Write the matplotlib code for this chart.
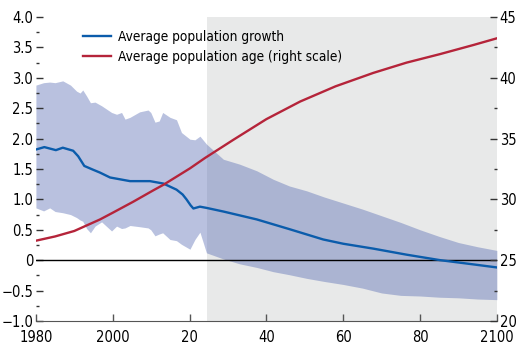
import numpy as np
import matplotlib.pyplot as plt
from matplotlib.ticker import MultipleLocator

# band (range across countries), left scale
band_years = [1980, 1982, 1983.6, 1985, 1987, 1989, 1990.6, 1991.5, 1992.2, 1993.2, 1994.2,
              1995.4, 1997.1, 1999.7, 2001, 2002.3, 2003.2, 2004.5, 2007, 2009.2, 2009.9,
              2011, 2012.1, 2013, 2014.9, 2016.6, 2017.9, 2020.1, 2021.4, 2022.7, 2024.4,
              2028.8, 2033, 2037.5, 2041.8, 2046, 2050.5, 2055, 2060, 2065, 2070, 2075,
              2080, 2085, 2090, 2095, 2100]
band_upper = [2.88, 2.92, 2.93, 2.92, 2.95, 2.88, 2.78, 2.75, 2.80, 2.70, 2.59,
              2.60, 2.54, 2.43, 2.40, 2.43, 2.32, 2.35, 2.44, 2.47, 2.43,
              2.27, 2.29, 2.43, 2.35, 2.31, 2.10, 1.99, 1.98, 2.04, 1.91,
              1.66, 1.58, 1.47, 1.33, 1.22, 1.14, 1.04, 0.94, 0.84, 0.73, 0.62,
              0.50, 0.39, 0.29, 0.22, 0.16]
band_lower = [0.86, 0.81, 0.86, 0.80, 0.78, 0.75, 0.70, 0.66, 0.64, 0.52, 0.45,
              0.56, 0.63, 0.48, 0.56, 0.52, 0.53, 0.57, 0.55, 0.53, 0.50,
              0.40, 0.43, 0.45, 0.34, 0.32, 0.26, 0.18, 0.34, 0.46, 0.12,
              0.02, -0.06, -0.12, -0.19, -0.24, -0.30, -0.35, -0.40, -0.46, -0.54, -0.58,
              -0.59, -0.61, -0.62, -0.64, -0.65]

growth_years = [1980, 1982.2, 1985.2, 1987, 1989.7, 1991, 1992.6, 1994.8, 1996.7, 1999.3,
                2001.9, 2004.5, 2009.7, 2013.2, 2016.6, 2018.2, 2019.2, 2020.3, 2021,
                2022.7, 2024.4, 2028.8, 2037.5, 2046, 2054.8, 2060, 2067.8, 2076.5,
                2085.2, 2093.9, 2100]
growth = [1.82, 1.86, 1.81, 1.85, 1.80, 1.71, 1.55, 1.49, 1.44, 1.36,
          1.33, 1.30, 1.30, 1.26, 1.16, 1.08, 1.00, 0.90, 0.85,
          0.88, 0.86, 0.80, 0.67, 0.51, 0.34, 0.27, 0.19, 0.09,
          0.00, -0.07, -0.12]

age_years = [1980, 1985, 1990, 1996.7, 2000, 2005.3, 2010.6, 2013.2, 2020.1, 2024,
             2031.4, 2040, 2048.8, 2058, 2067.8, 2076.5, 2085.2, 2093.9, 2100]
age = [26.6, 26.95, 27.4, 28.35, 28.9, 29.8, 30.75, 31.2, 32.55, 33.4,
       34.9, 36.6, 38.05, 39.3, 40.4, 41.25, 41.95, 42.7, 43.25]

projection_start = 2024.5

plt.rcParams['font.family'] = ['DejaVu Sans']
plt.rcParams['font.stretch'] = 'condensed'

fig = plt.figure(figsize=(5.28, 3.55), dpi=100)
ax = fig.add_axes([0.068, 0.096, 0.873, 0.856])

ax.axvspan(projection_start, 2100, color='#e8e9e9', zorder=0, lw=0)
ax.fill_between(band_years, band_lower, band_upper, color='#5066b1', alpha=0.4, lw=0, zorder=1)
ax.axhline(0, color='black', lw=1.0, zorder=2)
l1, = ax.plot(growth_years, growth, color='#0b5cab', lw=1.7, zorder=3,
              label='Average population growth')

ax.set_xlim(1980, 2100)
ax.set_ylim(-1, 4)

ax2 = ax.twinx()
ax2.set_ylim(20, 45)
l2, = ax2.plot(age_years, age, color='#b5243a', lw=1.7, zorder=3,
               label='Average population age (right scale)')

for a in (ax, ax2):
    for s in ('top', 'left', 'right'):
        a.spines[s].set_visible(False)
ax2.spines['bottom'].set_visible(False)
ax.spines['bottom'].set_color('#555555')

ax.set_xticks([1980, 2000, 2020, 2040, 2060, 2080, 2100])
ax.set_xticklabels(['1980', '2000', '20', '40', '60', '80', '2100'])
ax.set_yticks(np.arange(-1, 4.01, 0.5))
ax.set_yticklabels(['\u22121.0', '\u22120.5', '0', '0.5', '1.0', '1.5', '2.0',
                    '2.5', '3.0', '3.5', '4.0'])
ax.yaxis.set_minor_locator(MultipleLocator(0.25))
ax2.set_yticks([20, 25, 30, 35, 40, 45])
ax2.yaxis.set_minor_locator(MultipleLocator(2.5))

ax.tick_params(axis='x', direction='in', length=5, width=1, color='#555555',
               labelsize=10.5, pad=6.5)
ax.tick_params(axis='y', which='major', direction='in', length=5, width=1,
               color='#333333', labelsize=10.5, pad=2)
ax.tick_params(axis='y', which='minor', direction='in', length=2, width=1, color='#333333')
ax2.tick_params(axis='y', which='major', direction='in', length=5, width=1,
                color='#333333', labelsize=10.5, pad=2)
ax2.tick_params(axis='y', which='minor', direction='in', length=2, width=1, color='#333333')

ax.legend(handles=[l1, l2], loc='upper left', bbox_to_anchor=(0.09, 0.975),
          frameon=False, fontsize=9.8, handlelength=2.1, handletextpad=0.5,
          labelspacing=0.45, borderaxespad=0)

fig.savefig('out.png', dpi=100)
